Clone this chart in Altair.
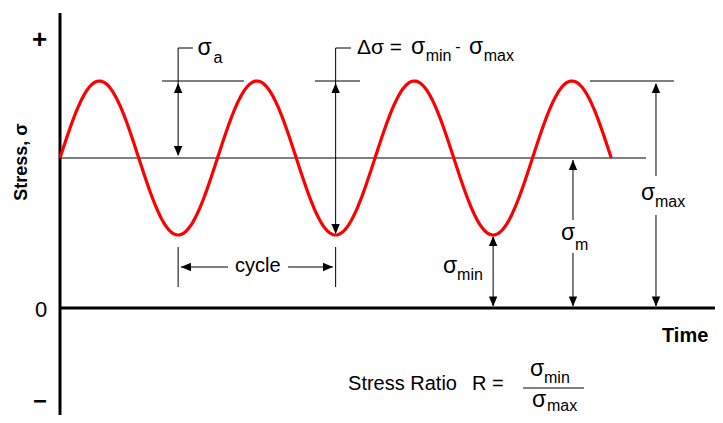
import altair as alt
import numpy as np
import pandas as pd

# ---------------- schematic quantities ----------------
sigma_m = 150.0          # mean stress
sigma_a = 77.0           # stress amplitude
sigma_max = sigma_m + sigma_a
sigma_min = sigma_m - sigma_a
n_cycles = 3.5           # number of cycles drawn

# view geometry (page pixels of t=0 and stress=0, pixels per cycle)
PX_PER_CYCLE = 157.5
X0_PX, Y0_PX = 60, 308
W, H = 707, 407
t_left = (8 - X0_PX) / PX_PER_CYCLE
t_right = (8 + W - X0_PX) / PX_PER_CYCLE
s_top = Y0_PX - 8
s_bottom = Y0_PX - (8 + H)

# ---------------- red stress curve ----------------
t_curve = np.linspace(0, n_cycles, 500)
s_curve = sigma_m + sigma_a * np.sin(2 * np.pi * t_curve)
curve = pd.DataFrame({"t": t_curve, "s": s_curve, "i": np.arange(len(t_curve))})

# ---------------- line segments (t1, s1, t2, s2, width) ----------------
seg_t1 = [0.0, 0.0, 0.0,
          0.75, 0.75, 0.648,
          1.75, 1.75, 1.619,
          3.365, 3.784, 3.784,
          3.257, 3.257,
          2.75,
          0.75, 1.75, 0.768, 1.448,
          2.940]
seg_s1 = [295, 0, sigma_m,
          260, 260, sigma_max,
          260, 260, sigma_max,
          sigma_max, sigma_max - 3, 93,
          sigma_m - 2, 55,
          sigma_min - 2,
          61, 61, 41, 41,
          -80]
seg_t2 = [0.0, 4.21, 3.721,
          0.75, 0.844, 1.168,
          1.75, 1.848, 1.905,
          3.898, 3.784, 3.784,
          3.257, 3.257,
          2.75,
          0.75, 1.75, 1.067, 1.733,
          3.327]
seg_s2 = [-115, 0, sigma_m,
          sigma_m + 3, 260, sigma_max,
          sigma_min + 2, 260, sigma_max,
          sigma_max, 132, 2,
          88, 2,
          2,
          21, 21, 41, 41,
          -80]
seg_w = [3, 3, 1.2,
         1, 1, 1,
         1, 1, 1,
         1, 1, 1,
         1, 1,
         1,
         1, 1, 1, 1,
         1]
segments = pd.DataFrame({"t1": seg_t1, "s1": seg_s1, "t2": seg_t2, "s2": seg_s2, "w": seg_w})

# ---------------- arrow heads (tip position + direction) ----------------
UP = "M0,0L-0.42,1L0.42,1Z"
DOWN = "M0,0L-0.42,-1L0.42,-1Z"
LEFT = "M0,0L1,-0.42L1,0.42Z"
RIGHT = "M0,0L-1,-0.42L-1,0.42Z"
arr_t = [0.75, 0.75, 1.75, 1.75, 3.784, 3.784, 3.257, 3.257, 2.75, 2.75, 0.768, 1.733]
arr_s = [sigma_max - 2, sigma_m + 2, sigma_max - 2, sigma_min + 1,
         sigma_max - 2, 1.5, sigma_m - 2, 1.5, sigma_min - 1, 1.5, 41, 41]
arr_d = [UP, DOWN, UP, DOWN, UP, DOWN, UP, DOWN, UP, DOWN, LEFT, RIGHT]
arrows = pd.DataFrame({"t": arr_t, "s": arr_s, "shape": arr_d})

# ---------------- labels (left edge, baseline) ----------------
lab_text = ["σ", "a",
            "Δσ =", "σ", "min", "-", "σ", "max",
            "σ", "min",
            "σ", "m",
            "σ", "max",
            "cycle",
            "0",
            "Stress Ratio", "R =",
            "σ", "min", "σ", "max"]
lab_t = [0.873, 0.975,
         1.885, 2.229, 2.322, 2.510, 2.597, 2.690,
         2.432, 2.521,
         3.181, 3.270,
         3.689, 3.778,
         1.111,
         -0.159,
         1.829, 2.616,
         2.984, 3.073, 2.997, 3.092]
lab_s = [253, 245,
         254, 254, 247, 256, 254, 247,
         35, 28,
         68, 58,
         108, 101,
         36,
         -9,
         -82, -82,
         -68, -75, -99, -103]
lab_size = [23, 16,
            21, 23, 16, 16, 23, 16,
            23, 16,
            23, 16,
            23, 16,
            20,
            22,
            20, 20,
            23, 16, 23, 16]
labels = pd.DataFrame({"t": lab_t, "s": lab_s, "text": lab_text, "size": lab_size})

bold_text = ["+", "−", "Time"]
bold_t = [-0.178, -0.172, 3.822]
bold_s = [260, -101, -34]
bold_size = [26, 24, 20]
bold = pd.DataFrame({"t": bold_t, "s": bold_s, "text": bold_text, "size": bold_size})

ylabel = pd.DataFrame({"t": [-0.241], "s": [146], "text": ["Stress, σ"]})

FONT = "Liberation Sans"
xs = alt.Scale(domain=[t_left, t_right], nice=False, zero=False)
ys = alt.Scale(domain=[s_bottom, s_top], nice=False, zero=False)
X = lambda f: alt.X(f, type="quantitative", scale=xs, axis=None)
Y = lambda f: alt.Y(f, type="quantitative", scale=ys, axis=None)

rules = alt.Chart(segments).mark_rule(color="black").encode(
    x=X("t1"), y=Y("s1"), x2="t2", y2="s2",
    strokeWidth=alt.StrokeWidth("w:Q", scale=None),
)

line = alt.Chart(curve).mark_line(color="#ff0000", strokeWidth=3.2).encode(
    x=X("t"), y=Y("s"), order="i:Q"
)

heads = alt.Chart(arrows).mark_point(filled=True, color="black", opacity=1, size=400, strokeWidth=0).encode(
    x=X("t"), y=Y("s"), shape=alt.Shape("shape:N", scale=None)
)

txt = alt.Chart(labels).mark_text(align="left", baseline="alphabetic", font=FONT, color="black").encode(
    x=X("t"), y=Y("s"), text="text:N", size=alt.Size("size:Q", scale=None)
)

btxt = alt.Chart(bold).mark_text(align="left", baseline="alphabetic", font=FONT, fontWeight="bold", color="black").encode(
    x=X("t"), y=Y("s"), text="text:N", size=alt.Size("size:Q", scale=None)
)

ytxt = alt.Chart(ylabel).mark_text(align="center", baseline="middle", font=FONT, fontWeight="bold",
                                   fontSize=18, angle=270, color="black").encode(
    x=X("t"), y=Y("s"), text="text:N"
)

chart = alt.layer(rules, line, heads, txt, btxt, ytxt).properties(
    width=W, height=H, padding=0,
    autosize=alt.AutoSizeParams(type="none"),
    background="white",
).configure_view(stroke=None)

chart.save("out.html", embed_options={"renderer": "svg", "actions": False})
